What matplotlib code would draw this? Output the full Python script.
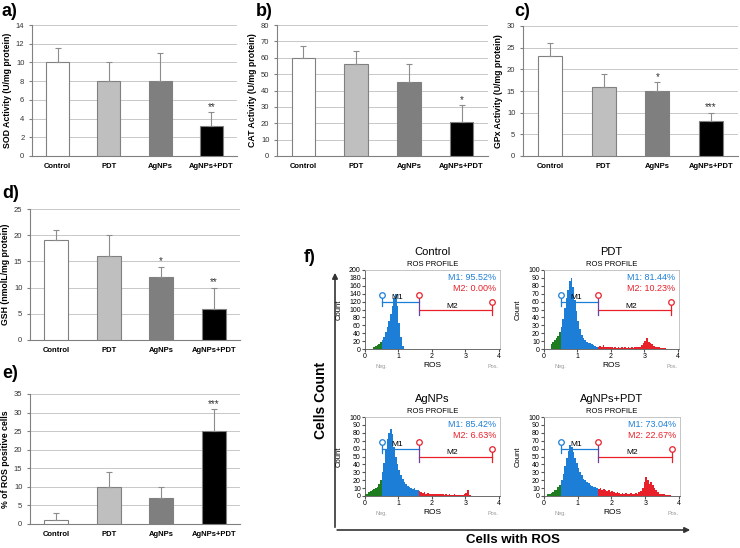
import numpy as np
import matplotlib
matplotlib.use('Agg')
import matplotlib.pyplot as plt

plt.rcParams['font.family'] = ['Liberation Sans', 'DejaVu Sans']

groups = ['Control', 'PDT', 'AgNPs', 'AgNPs+PDT']
bar_colors = ['#ffffff', '#bfbfbf', '#7f7f7f', '#000000']

sod = [10, 8, 8, 3.2]
sod_err = [1.5, 2, 3, 1.5]
sod_stars = ['', '', '', '**']

cat = [60, 56, 45, 21]
cat_err = [7, 8, 11, 10]
cat_stars = ['', '', '', '*']

gpx = [23, 16, 15, 8]
gpx_err = [3, 3, 2, 2]
gpx_stars = ['', '', '*', '***']

gsh = [19, 16, 12, 6]
gsh_err = [2, 4, 2, 4]
gsh_stars = ['', '', '*', '**']

ros = [1, 10, 7, 25]
ros_err = [2, 4, 3, 6]
ros_stars = ['', '', '', '***']

# flow cytometry histograms, bins of 0.05 from 0 to 4
bin_w = 0.05
hist_control = [0, 0, 0, 0, 1, 4, 7, 10, 13, 17,
                22, 30, 42, 55, 70, 88, 108, 128, 140, 110,
                65, 30, 8, 1, 0, 0, 0, 0, 0, 0,
                0, 0, 0, 0, 0, 0, 0, 0, 0, 0,
                0, 0, 0, 0, 0, 0, 0, 0, 0, 0,
                0, 0, 0, 0, 0, 0, 0, 0, 0, 0,
                0, 0, 0, 0, 0, 0, 0, 0, 0, 0,
                0, 0, 0, 0, 0, 0, 0, 0, 0, 0]
hist_pdt = [0, 0, 0, 0, 6, 9, 11, 14, 17, 22,
            28, 38, 52, 64, 75, 86, 90, 78, 62, 48,
            36, 25, 18, 14, 11, 9, 8, 7, 6, 5,
            4, 3, 3, 4, 3, 5, 3, 2, 3, 2,
            2, 1, 2, 1, 2, 1, 2, 1, 2, 1,
            2, 1, 2, 1, 2, 2, 3, 3, 5, 8,
            10, 14, 9, 7, 6, 4, 3, 2, 2, 1,
            1, 1, 1, 0, 0, 0, 0, 0, 0, 0]
hist_agnps = [2, 3, 5, 6, 8, 9, 10, 12, 15, 20,
              30, 42, 58, 72, 80, 85, 78, 62, 50, 40,
              33, 26, 22, 18, 15, 13, 12, 10, 9, 10,
              8, 7, 6, 5, 4, 5, 3, 4, 3, 3,
              2, 3, 2, 2, 3, 2, 2, 1, 2, 1,
              2, 1, 1, 2, 1, 1, 1, 1, 1, 2,
              4, 8, 1, 0, 0, 0, 0, 0, 0, 0,
              0, 0, 0, 0, 0, 0, 0, 0, 0, 0]
hist_combo = [0, 0, 2, 3, 4, 5, 7, 8, 11, 14,
              20, 28, 38, 48, 57, 64, 62, 56, 48, 42,
              36, 30, 26, 22, 20, 18, 16, 14, 13, 12,
              11, 10, 9, 10, 8, 9, 7, 6, 7, 5,
              6, 5, 4, 5, 4, 3, 4, 3, 4, 3,
              3, 4, 3, 3, 4, 3, 5, 6, 10, 18,
              24, 20, 15, 18, 14, 10, 7, 5, 3, 3,
              2, 2, 1, 1, 1, 0, 0, 0, 0, 0]
m1_pct = ['95.52%', '81.44%', '85.42%', '73.04%']
m2_pct = ['0.00%', '10.23%', '6.63%', '22.67%']
hist_titles = ['Control', 'PDT', 'AgNPs', 'AgNPs+PDT']
hist_ymax = [200, 100, 100, 100]

W, H = 740, 548
fig = plt.figure(figsize=(W / 100, H / 100), dpi=100)


def rect(x0, y0, x1, y1):
    return [x0 / W, 1 - y1 / H, (x1 - x0) / W, (y1 - y0) / H]


def bar_panel(r, vals, errs, stars, ymax, step, ylabel):
    ax = fig.add_axes(rect(*r))
    x = np.arange(len(groups))
    ax.bar(x, vals, width=0.45, color=bar_colors, edgecolor='#808080', linewidth=0.8, zorder=3)
    ax.errorbar(x, vals, yerr=[np.zeros(len(errs)), errs], fmt='none', ecolor='#8c8c8c',
                elinewidth=0.8, capsize=2, capthick=0.8, zorder=4)
    for xi, v, e, s in zip(x, vals, errs, stars):
        if s:
            ax.text(xi, v + e + ymax * 0.04, s, ha='center', va='center', fontsize=7, color='#333333')
    ax.set_xlim(-0.5, 3.5)
    ax.set_ylim(0, ymax)
    ax.set_yticks(np.arange(0, ymax + step / 2, step))
    ax.set_xticks(x)
    ax.set_xticklabels(groups, fontsize=5.5, fontweight='bold')
    ax.tick_params(axis='y', labelsize=5.5, length=2, color='#808080', labelcolor='#333333')
    ax.tick_params(axis='x', length=0, pad=5)
    ax.grid(axis='y', color='#c8c8c8', linewidth=0.7, zorder=0)
    for s in ['top', 'right']:
        ax.spines[s].set_visible(False)
    ax.spines['left'].set_color('#808080')
    ax.spines['bottom'].set_color('#808080')
    ax.set_ylabel(ylabel, fontsize=6.3, fontweight='bold', labelpad=3)
    return ax


bar_panel((32, 25, 237, 156), sod, sod_err, sod_stars, 14, 2, 'SOD Activity (U/mg protein)')
bar_panel((277, 25, 488, 156), cat, cat_err, cat_stars, 80, 10, 'CAT Activity (U/mg protein)')
bar_panel((523, 26, 738, 156), gpx, gpx_err, gpx_stars, 30, 5, 'GPx Activity (U/mg protein)')
bar_panel((30, 209, 240, 340), gsh, gsh_err, gsh_stars, 25, 5, 'GSH (nmolL/mg protein)')
bar_panel((30, 394, 240, 524), ros, ros_err, ros_stars, 35, 5, '% of ROS positive cells')

for lbl, px, py in [('a)', 2, 12), ('b)', 256, 12), ('c)', 514, 12), ('d)', 2, 193), ('e)', 2, 373), ('f)', 304, 258)]:
    fig.text(px / W, 1 - py / H, lbl, fontsize=13, fontweight='bold', va='center', ha='left')

# big f) frame with arrows
ov = fig.add_axes([0, 0, 1, 1], zorder=-1)
ov.set_xlim(0, W)
ov.set_ylim(H, 0)
ov.axis('off')
ov.annotate('', xy=(335, 270), xytext=(335, 530),
            arrowprops=dict(arrowstyle='-|>', color='#333333', lw=1.2, mutation_scale=8))
ov.annotate('', xy=(693, 530), xytext=(334.4, 530),
            arrowprops=dict(arrowstyle='-|>', color='#333333', lw=1.2, mutation_scale=8))
ov.text(321, 400, 'Cells Count', rotation=90, ha='center', va='center', fontsize=10, fontweight='bold')
ov.text(513, 540, 'Cells with ROS', ha='center', va='center', fontsize=9.5, fontweight='bold')

blue = '#1c7ed6'
green = '#1e7d1e'
red = '#e8202a'
hist_data = [hist_control, hist_pdt, hist_agnps, hist_combo]
hist_rects = [(365, 270, 500, 349), (544, 270, 679, 349), (365, 417, 500, 496), (544, 417, 680, 496)]

for k in range(4):
    ax = fig.add_axes(rect(*hist_rects[k]))
    counts = np.array(hist_data[k])
    edges = np.arange(len(counts)) * bin_w
    cols = [green if e < 0.5 - 1e-9 else (blue if e < 1.6 - 1e-9 else red) for e in edges]
    ax.bar(edges, counts, width=bin_w, align='edge', color=cols, linewidth=0)
    ymax = hist_ymax[k]
    ax.set_xlim(0, 4.03)
    ax.set_ylim(0, ymax)
    ax.set_yticks(np.arange(0, ymax + 1, ymax // 10))
    ax.set_xticks([0, 1, 2, 3, 4])
    ax.tick_params(labelsize=5, length=2, pad=1, color='#555555')
    for s in ax.spines.values():
        s.set_color('#bbbbbb')
        s.set_linewidth(0.6)
    ax.spines['left'].set_color('#555555')
    ax.spines['bottom'].set_color('#555555')
    ax.set_ylabel('Count', fontsize=5.5, labelpad=5)
    ax.set_xlabel('ROS', fontsize=6, labelpad=1)
    ax.text(0.12, -0.22, 'Neg.', transform=ax.transAxes, fontsize=4, color='#999999', ha='center', va='center')
    ax.text(0.95, -0.22, 'Pos.', transform=ax.transAxes, fontsize=4, color='#999999', ha='center', va='center')
    ax.text(0.5, 1.16, hist_titles[k], transform=ax.transAxes, fontsize=8, ha='center', va='bottom')
    ax.text(0.5, 1.02, 'ROS PROFILE', transform=ax.transAxes, fontsize=5.5, ha='center', va='bottom')
    ax.text(0.97, 0.9, 'M1: ' + m1_pct[k], transform=ax.transAxes, fontsize=6.5, color=blue, ha='right', va='center')
    ax.text(0.97, 0.76, 'M2: ' + m2_pct[k], transform=ax.transAxes, fontsize=6.5, color=red, ha='right', va='center')
    # gate markers
    y1 = 0.6 * ymax
    y2 = 0.49 * ymax
    yc = 0.68 * ymax
    ax.plot([0.5, 1.6], [y1, y1], color=blue, lw=0.9)
    ax.plot([1.6, 3.8], [y2, y2], color=red, lw=0.9)
    ax.plot([0.5, 0.5], [y1 - 0.06 * ymax, yc], color=blue, lw=0.9)
    ax.plot([1.6, 1.6], [y2 - 0.06 * ymax, yc], color='#7040a0', lw=0.9)
    ax.plot([3.8, 3.8], [y2 - 0.06 * ymax, yc - 0.08 * ymax], color=red, lw=0.9)
    ax.plot([0.5], [yc], marker='o', ms=4, mfc='white', mec=blue, mew=0.9)
    ax.plot([1.6], [yc], marker='o', ms=4, mfc='white', mec=red, mew=0.9)
    ax.plot([3.8], [yc - 0.08 * ymax], marker='o', ms=4, mfc='white', mec=red, mew=0.9)
    ax.text(0.95, y1 + 0.01 * ymax, 'M1', fontsize=6, ha='center', va='bottom')
    ax.text(2.6, y2 + 0.01 * ymax, 'M2', fontsize=6, ha='center', va='bottom')

fig.savefig('out.png', dpi=100)
